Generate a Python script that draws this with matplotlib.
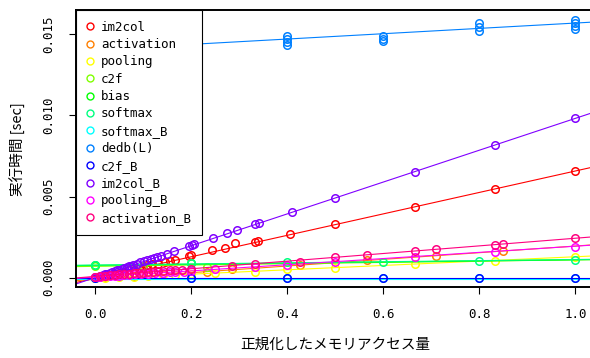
"""
Execution time vs normalized memory access, per kernel, with fitted lines.
"""
import matplotlib
matplotlib.use("Agg")
import matplotlib.pyplot as plt
from matplotlib.lines import Line2D

# series names and colours (R rainbow(12) order)
names = ["im2col", "activation", "pooling", "c2f", "bias", "softmax",
         "softmax_B", "dedb(L)", "c2f_B", "im2col_B", "pooling_B", "activation_B"]
colors = ["#FF0000", "#FF8000", "#FFFF00", "#80FF00", "#00FF00", "#00FF80",
          "#00FFFF", "#0080FF", "#0000FF", "#8000FF", "#FF00FF", "#FF0080"]

# measured points (normalized memory access, seconds)
im2col_x = [0.0, 0.01, 0.02, 0.03, 0.04, 0.05, 0.06, 0.07, 0.08, 0.09, 0.1, 0.107, 0.118,
            0.13, 0.145, 0.155, 0.166, 0.196, 0.2, 0.244, 0.27, 0.292, 0.333, 0.338, 0.406,
            0.5, 0.667, 0.833, 1.0]
im2col_y = [0.00001, 0.00005, 0.0001, 0.00017, 0.00024, 0.0003, 0.00038, 0.00045, 0.0005,
            0.00058, 0.00065, 0.0008, 0.00082, 0.00087, 0.00097, 0.00102, 0.00107, 0.00135,
            0.00138, 0.0017, 0.00181, 0.00212, 0.0022, 0.00226, 0.00267, 0.00329, 0.00435,
            0.00546, 0.00657]

activation_x = [0.0, 0.02, 0.05, 0.08, 0.11, 0.142, 0.232, 0.284, 0.426, 0.567, 0.709, 0.85]
activation_y = [0.0, 0.00002, 0.00008, 0.00012, 0.00018, 0.00022, 0.00037, 0.00052,
                0.00078, 0.00109, 0.00134, 0.00164]

pooling_x = [0.0, 0.02, 0.05, 0.08, 0.11, 0.14, 0.167, 0.2, 0.25, 0.333, 0.4, 0.5, 0.667, 0.833, 1.0]
pooling_y = [0.0, 0.0, 0.00002, 0.00006, 0.0001, 0.00014, 0.00018, 0.00022, 0.00028, 0.00037,
             0.00052, 0.00062, 0.00084, 0.00105, 0.00129]

c2f_x = [0.0, 0.1, 0.232]
c2f_y = [0.00072, 0.00074, 0.00068]

bias_x = [0.0, 0.2]
bias_y = [0.00078, 0.0009]

softmax_x = [0.0, 0.2, 0.4, 0.6, 0.8, 1.0]
softmax_y = [0.00078, 0.0009, 0.00097, 0.00097, 0.00103, 0.00112]

softmax_B_x = [0.0, 0.2, 0.4, 0.6, 0.8, 1.0]
softmax_B_y = [-0.00003, -0.00003, -0.00003, -0.00003, -0.00003, -0.00003]

dedb_x = [0.4, 0.4, 0.4, 0.4, 0.6, 0.6, 0.6, 0.8, 0.8, 0.8, 1.0, 1.0, 1.0, 1.0]
dedb_y = [0.01488, 0.0147, 0.01451, 0.01433, 0.01488, 0.0147, 0.01455,
          0.01568, 0.01544, 0.01519, 0.01587, 0.01568, 0.0155, 0.01531]

c2f_B_x = [0.0, 0.2, 0.4, 0.6, 0.8, 1.0]
c2f_B_y = [0.0, 0.0, 0.0, 0.0, 0.0, 0.0]

im2col_B_x = [0.0, 0.005, 0.01, 0.015, 0.02, 0.025, 0.03, 0.035, 0.04, 0.045, 0.05, 0.055,
              0.06, 0.065, 0.07, 0.075, 0.079, 0.086, 0.094, 0.101, 0.108, 0.115, 0.122,
              0.129, 0.136, 0.149, 0.163, 0.196, 0.201, 0.206, 0.246, 0.274, 0.295, 0.333,
              0.341, 0.409, 0.5, 0.667, 0.833, 1.0]
im2col_B_y = [0.00002, 0.00006, 0.00011, 0.00015, 0.0002, 0.00025, 0.0003, 0.00035, 0.0004,
              0.00045, 0.0005, 0.00055, 0.0006, 0.00064, 0.00069, 0.00074, 0.0008, 0.00086,
              0.00094, 0.001, 0.00107, 0.00113, 0.00119, 0.00126, 0.00133, 0.00147, 0.00162,
              0.00195, 0.002, 0.00206, 0.00243, 0.00273, 0.00294, 0.00329, 0.00337, 0.00404,
              0.00491, 0.00653, 0.00817, 0.00981]

pooling_B_x = [0.0, 0.01, 0.02, 0.03, 0.04, 0.05, 0.06, 0.07, 0.083, 0.095, 0.11, 0.125,
               0.14, 0.155, 0.167, 0.185, 0.2, 0.25, 0.333, 0.4, 0.5, 0.667, 0.833, 1.0]
pooling_B_y = [0.00003, 0.00005, 0.00008, 0.0001, 0.00012, 0.00013, 0.00015, 0.00017, 0.0002,
               0.00022, 0.00025, 0.00028, 0.0003, 0.00033, 0.00035, 0.00038, 0.0004, 0.00052,
               0.00068, 0.00079, 0.00099, 0.0013, 0.00156, 0.00191]

activation_B_x = [0.0, 0.01, 0.02, 0.03, 0.04, 0.05, 0.06, 0.07, 0.08, 0.09, 0.1, 0.11, 0.12,
                  0.131, 0.142, 0.155, 0.167, 0.18, 0.2, 0.284, 0.333, 0.426, 0.5, 0.567,
                  0.667, 0.709, 0.833, 0.85, 1.0]
activation_B_y = [0.00006, 0.00009, 0.00012, 0.00014, 0.00017, 0.0002, 0.00022, 0.00025,
                  0.00027, 0.00029, 0.0003, 0.00033, 0.00036, 0.00039, 0.00042, 0.00045,
                  0.00047, 0.0005, 0.00055, 0.00075, 0.00086, 0.00099, 0.00126, 0.0014,
                  0.00166, 0.00175, 0.00204, 0.00208, 0.00243]

xs = [im2col_x, activation_x, pooling_x, c2f_x, bias_x, softmax_x, softmax_B_x,
      dedb_x, c2f_B_x, im2col_B_x, pooling_B_x, activation_B_x]
ys = [im2col_y, activation_y, pooling_y, c2f_y, bias_y, softmax_y, softmax_B_y,
      dedb_y, c2f_B_y, im2col_B_y, pooling_B_y, activation_B_y]

# fitted lines (intercept, slope)
fit_intercept = [-0.00003, -0.0001, -0.00005, 0.0007, 0.00076, 0.00078, -0.00006,
                 0.01404, 0.0, 0.00001, 0.00004, 0.00008]
fit_slope = [0.0066, 0.00205, 0.00134, 0.0004, 0.00034, 0.00034, 0.0,
             0.00164, 0.0, 0.0098, 0.0019, 0.00235]

xticks = [0.0, 0.2, 0.4, 0.6, 0.8, 1.0]
xtick_labels = ["0.0", "0.2", "0.4", "0.6", "0.8", "1.0"]
yticks = [0.0, 0.005, 0.010, 0.015]
ytick_labels = ["0.000", "0.005", "0.010", "0.015"]

mono = "DejaVu Sans Mono"
jp = ["Noto Sans CJK JP", "DejaVu Sans"]

fig = plt.figure(figsize=(5.9, 3.58), dpi=100)
W, H = 590, 358
left, right, top, bottom = 76.1, 594.5, 10, 287.3
ax = fig.add_axes([left / W, 1 - bottom / H, (right - left) / W, (bottom - top) / H])

for x, y, c, a, b in zip(xs, ys, colors, fit_intercept, fit_slope):
    ax.plot(x, y, linestyle="none", marker="o", markersize=5.4,
            markerfacecolor="none", markeredgecolor=c, markeredgewidth=1.1)
    ax.axline((0, a), slope=b, color=c, linewidth=0.8)

ax.set_xlim(-0.04, 1.04)
ax.set_ylim(-0.000591, 0.016484)
ax.set_xticks(xticks)
ax.set_xticklabels(xtick_labels, family=mono, fontsize=9)
ax.set_yticks(yticks)
ax.set_yticklabels(ytick_labels, family=mono, fontsize=9, rotation=90, va="center")
ax.tick_params(direction="out", length=5, width=0.8, pad=10)
for s in ax.spines.values():
    s.set_linewidth(1.4)

ax.set_xlabel("正規化したメモリアクセス量", family=jp, fontsize=10.5, labelpad=12)
ax.set_ylabel("実行時間 [sec]", family=jp, fontsize=10.5, labelpad=12)

handles = [Line2D([], [], linestyle="none", marker="o", markersize=5,
                  markerfacecolor="none", markeredgecolor=c, markeredgewidth=1.0)
           for c in colors]
leg = ax.legend(handles, names, loc="upper left", bbox_to_anchor=(0, 1),
                borderaxespad=0, prop={"family": mono, "size": 9},
                frameon=True, fancybox=False, framealpha=1, edgecolor="black",
                handlelength=0.6, handletextpad=0.55, labelspacing=0.35,
                borderpad=0.85)
leg.get_frame().set_linewidth(0.8)

fig.savefig("out.png", dpi=100)
